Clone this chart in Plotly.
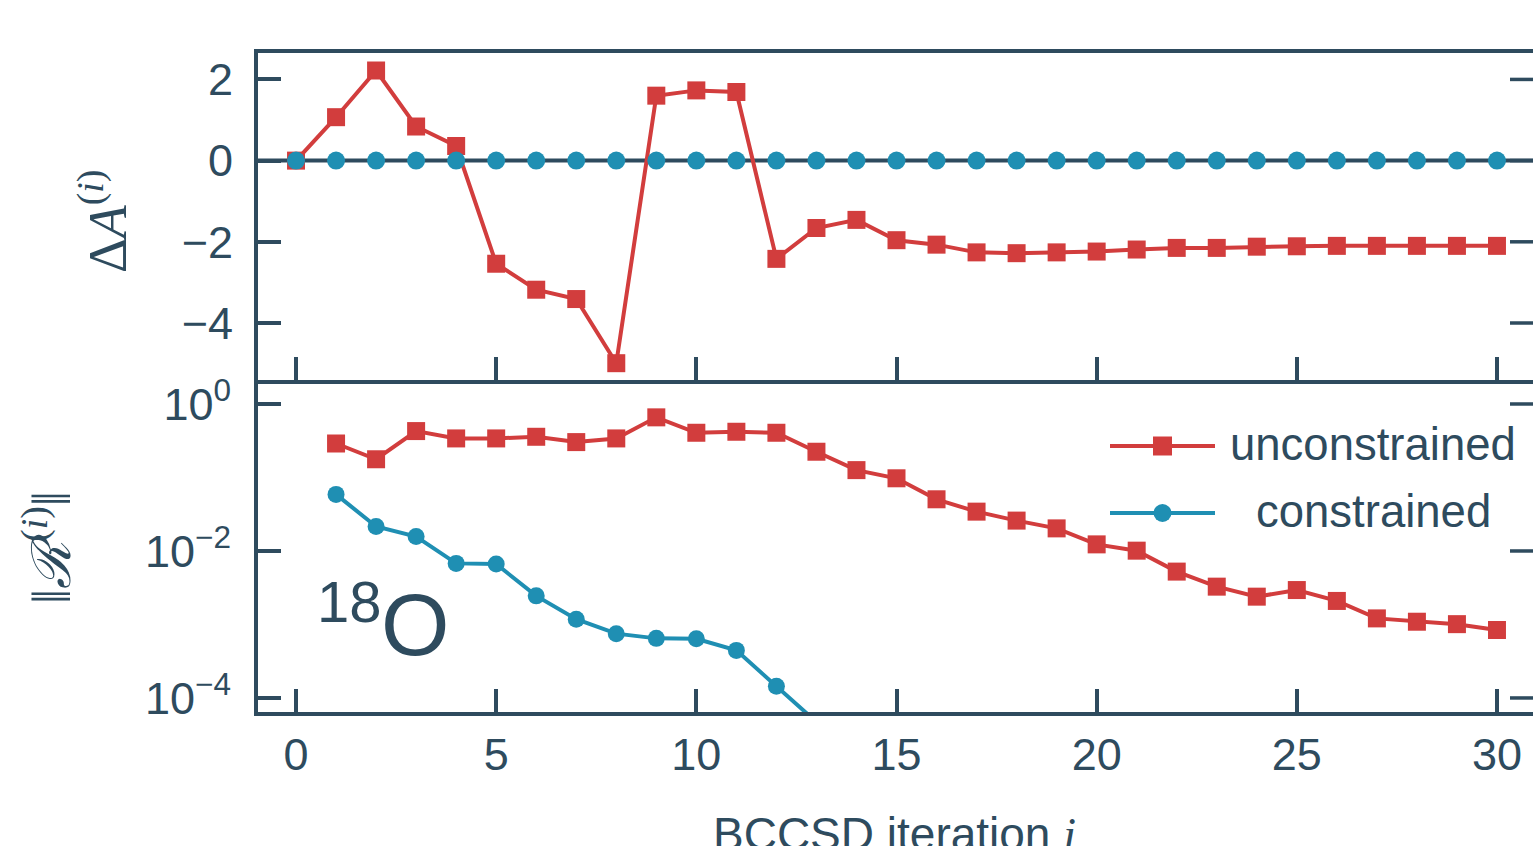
import plotly.graph_objects as go
from plotly.subplots import make_subplots

# ---------------- data ----------------
iter_top = list(range(0, 31))
dA_unconstrained = [0.0, 1.07, 2.22, 0.84, 0.36, -2.54, -3.18, -3.41, -4.99, 1.60,
                    1.73, 1.69, -2.42, -1.66, -1.46, -1.96, -2.07, -2.26, -2.28, -2.26,
                    -2.24, -2.19, -2.15, -2.15, -2.12, -2.11, -2.10, -2.10, -2.10, -2.10,
                    -2.10]
dA_constrained = [0.0, 0.0, 0.0, 0.0, 0.0, 0.0, 0.0, 0.0, 0.0, 0.0,
                  0.0, 0.0, 0.0, 0.0, 0.0, 0.0, 0.0, 0.0, 0.0, 0.0,
                  0.0, 0.0, 0.0, 0.0, 0.0, 0.0, 0.0, 0.0, 0.0, 0.0,
                  0.0]

iter_res_unc = list(range(1, 31))
res_unconstrained = [0.290, 0.177, 0.428, 0.340, 0.340, 0.358, 0.303, 0.340, 0.658, 0.406,
                     0.419, 0.406, 0.224, 0.126, 0.0975, 0.0505, 0.0343, 0.0259, 0.0203, 0.0123,
                     0.0101, 0.00524, 0.00327, 0.00239, 0.00294, 0.00209, 0.00121, 0.00109, 0.00101,
                     0.000841]
iter_res_con = list(range(1, 14))
res_constrained = [0.0589, 0.0215, 0.0157, 0.00678, 0.00664, 0.00245, 0.00118, 0.000750,
                   0.000647, 0.000640, 0.000444, 0.000144, 0.0000470]

x_ticks = [0, 5, 10, 15, 20, 25, 30]
top_yticks = [-4, -2, 0, 2]
top_yticklabels = ["\u22124", "\u22122", "0", "2"]
bot_yticks = [1, 1e-2, 1e-4]
bot_yticklabels = ["10<sup>0</sup>", "10<sup>\u22122</sup>", "10<sup>\u22124</sup>"]
legend_labels = ["unconstrained", "constrained"]

# ---------------- style ----------------
RED = "#D23D3D"
BLUE = "#1F8FB3"
DARK = "#2E4B5E"
SANS = "Liberation Sans, Arial, sans-serif"
SERIF = "Liberation Serif, Times New Roman, serif"
W, H = 1533, 846
L, R, T, B = 258, 0, 53, 134
PW, PH = W - L - R, H - T - B
TICKLEN = 23


def px(x):
    return (x - L) / PW


def py(y):
    return (H - B - y) / PH


fig = make_subplots(rows=2, cols=1, shared_xaxes=False, vertical_spacing=0)

# top panel
fig.add_trace(go.Scatter(x=iter_top, y=dA_unconstrained, mode="lines+markers",
                         line=dict(color=RED, width=4),
                         marker=dict(symbol="square", size=18, color=RED),
                         showlegend=False), row=1, col=1)
fig.add_trace(go.Scatter(x=iter_top, y=dA_constrained, mode="markers",
                         marker=dict(symbol="circle", size=18, color=BLUE),
                         showlegend=False), row=1, col=1)
# bottom panel
fig.add_trace(go.Scatter(x=iter_res_unc, y=res_unconstrained, mode="lines+markers",
                         line=dict(color=RED, width=4),
                         marker=dict(symbol="square", size=18, color=RED),
                         showlegend=False), row=2, col=1)
fig.add_trace(go.Scatter(x=iter_res_con, y=res_constrained, mode="lines+markers",
                         line=dict(color=BLUE, width=4),
                         marker=dict(symbol="circle", size=17, color=BLUE),
                         showlegend=False), row=2, col=1)

axis_common = dict(showline=True, linecolor=DARK, linewidth=4, mirror=True,
                   ticks="inside", ticklen=TICKLEN, tickwidth=3.5, tickcolor=DARK,
                   showgrid=False, zeroline=False,
                   tickfont=dict(family=SANS, size=45, color=DARK))

top_range = [-5.404, 2.651]
bot_range = [-4.191, 0.272]
xr = [-0.95, 30.90]
fig.update_layout(
    xaxis=dict(axis_common, range=xr, tickvals=x_ticks, showticklabels=False,
               domain=[0, 1], anchor="y"),
    yaxis=dict(axis_common, mirror=False, range=top_range, tickvals=top_yticks,
               ticktext=top_yticklabels, domain=[py(380), 1], anchor="x",
               ticklabelstandoff=12),
    xaxis2=dict(axis_common, range=xr, tickvals=x_ticks,
                ticktext=[str(v) for v in x_ticks], domain=[0, 1], anchor="y2",
                ticklabelstandoff=0),
    yaxis2=dict(axis_common, mirror=False, type="log", range=bot_range,
                tickvals=bot_yticks, ticktext=bot_yticklabels,
                domain=[0, py(384)], anchor="x2", ticklabelstandoff=14),
)

# right-hand inward ticks (the right spine itself lies just outside the frame)
for yref, vals in [("y", top_yticks), ("y2", bot_yticks)]:
    for v in vals:
        fig.add_shape(type="line", xref="x domain" if yref == "y" else "x2 domain",
                      x0=1 - TICKLEN / PW, x1=1, yref=yref, y0=v, y1=v,
                      line=dict(color=DARK, width=3.5), layer="above")

# zero line in top panel
fig.add_shape(type="line", xref="x domain", x0=0, x1=1, yref="y", y0=0, y1=0,
              line=dict(color=DARK, width=4), layer="below")

# legend (drawn manually)
for (ly, col, sym, lab) in [(446, RED, "square", legend_labels[0]),
                             (513, BLUE, "circle", legend_labels[1])]:
    fig.add_shape(type="line", xref="paper", yref="paper",
                  x0=px(1110), x1=px(1215), y0=py(ly), y1=py(ly),
                  line=dict(color=col, width=4))
    if sym == "square":
        fig.add_shape(type="rect", xref="paper", yref="paper",
                      x0=px(1153), x1=px(1172), y0=py(ly - 9.5), y1=py(ly + 9.5),
                      fillcolor=col, line=dict(width=0))
    else:
        fig.add_shape(type="circle", xref="paper", yref="paper",
                      x0=px(1153.5), x1=px(1171.5), y0=py(ly - 9), y1=py(ly + 9),
                      fillcolor=col, line=dict(width=0))
    fig.add_annotation(text=lab, xref="paper", yref="paper", x=px(1373), y=py(ly - 2),
                       xanchor="center", yanchor="middle", showarrow=False,
                       font=dict(family=SANS, size=45.5, color=DARK))

# axis titles
fig.add_annotation(text="\u0394<i>A</i><sup>(<i>i</i>)</sup>", xref="paper", yref="paper",
                   x=px(103), y=py(222), xanchor="center", yanchor="middle",
                   textangle=-90, showarrow=False,
                   font=dict(family=SERIF, size=54, color=DARK))
fig.add_annotation(text="\u2016<i>\u211B</i><sup>(<i>i</i>)</sup>\u2016", xref="paper", yref="paper",
                   x=px(47), y=py(548), xanchor="center", yanchor="middle",
                   textangle=-90, showarrow=False,
                   font=dict(family=SERIF, size=54, color=DARK))
fig.add_annotation(text="BCCSD iteration <span style='font-family:Liberation Serif'><i>i</i></span>",
                   xref="paper", yref="paper", x=px(894), y=py(806),
                   xanchor="center", yanchor="top", showarrow=False,
                   font=dict(family=SANS, size=46, color=DARK))

# nucleus label
fig.add_annotation(text="18", xref="paper", yref="paper", x=px(349), y=py(601),
                   xanchor="center", yanchor="middle", showarrow=False,
                   font=dict(family=SANS, size=58, color=DARK))
fig.add_annotation(text="O", xref="paper", yref="paper", x=px(415), y=py(624),
                   xanchor="center", yanchor="middle", showarrow=False,
                   font=dict(family=SANS, size=88, color=DARK))

fig.update_layout(width=W, height=H, margin=dict(l=L, r=R, t=T, b=B),
                  plot_bgcolor="white", paper_bgcolor="white", showlegend=False)

fig.write_html("out.html", config={"displayModeBar": False},
               post_script="document.body.style.margin='0';document.body.style.overflow='hidden';")
